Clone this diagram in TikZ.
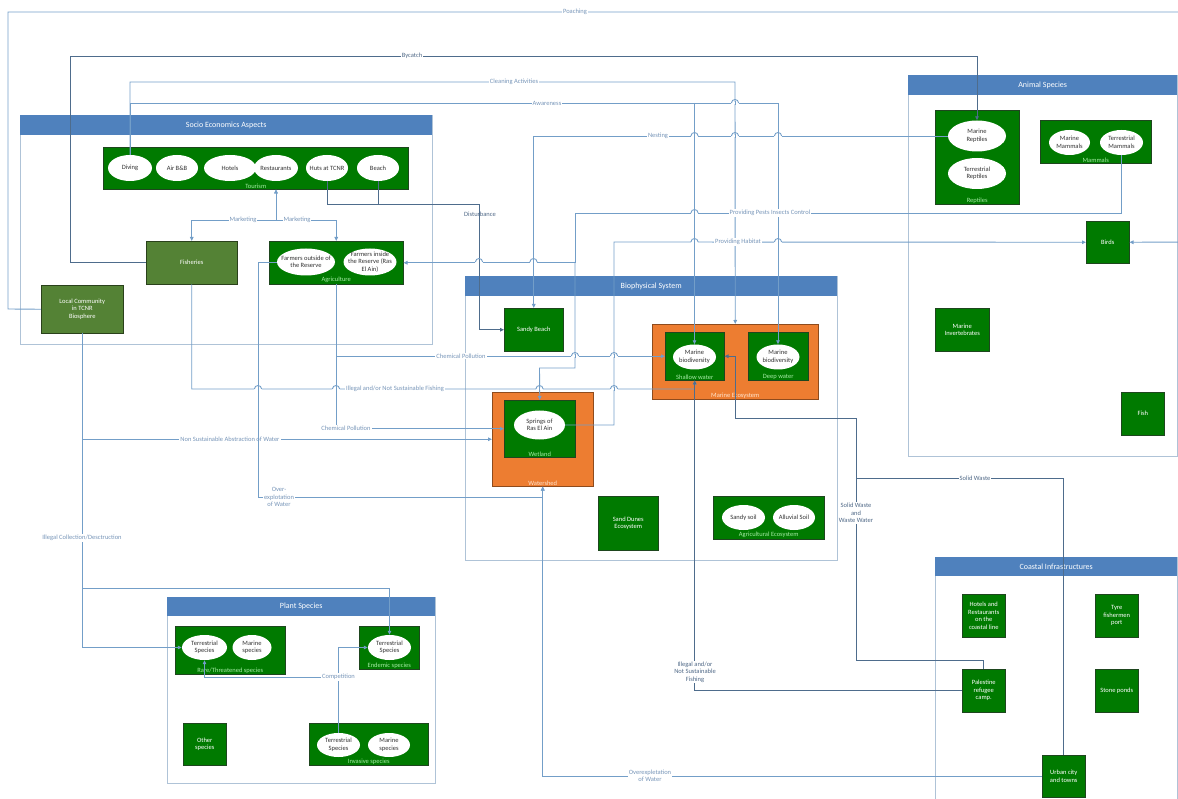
\documentclass[tikz,border=0pt]{standalone}
\usepackage{fontspec}
\setmainfont{Carlito}
\usetikzlibrary{shapes.geometric,arrows.meta}

\definecolor{hdrblue}{RGB}{79,129,189}
\definecolor{framec}{RGB}{175,195,215}
\definecolor{gfill}{RGB}{0,122,0}
\definecolor{gdraw}{RGB}{30,70,30}
\definecolor{olivec}{RGB}{84,130,53}
\definecolor{orng}{RGB}{237,125,49}
\definecolor{lline}{RGB}{115,158,200}
\definecolor{dline}{RGB}{78,108,140}
\definecolor{ltext}{RGB}{120,150,185}
\definecolor{dtext}{RGB}{80,105,135}
\definecolor{subg}{RGB}{165,235,165}
\definecolor{subo}{RGB}{255,228,205}

\tikzset{
  every node/.style={font=\fontsize{6.5}{7.5}\selectfont},
  frame/.style={draw=framec, line width=0.8pt, anchor=north west, inner sep=0pt},
  header/.style={fill=hdrblue, text=white, anchor=north west, inner sep=0pt,
    font=\fontsize{8}{9.6}\selectfont},
  gbox/.style={fill=gfill, draw=gdraw, line width=0.5pt, text=white, anchor=north west,
    inner sep=1pt, align=center},
  obox/.style={gbox, fill=orng, draw=orng!60!black},
  olbox/.style={gbox, fill=olivec, draw=olivec!50!black},
  ell/.style={ellipse, fill=white, draw=none, inner xsep=-7pt, inner ysep=-4pt,
    align=center, text=black!80},
  sublbl/.style={text=subg, anchor=south, inner sep=1.2pt},
  conn/.style={draw=lline, line width=0.9pt},
  dconn/.style={draw=dline, line width=0.9pt},
  lbl/.style={fill=white, text=ltext, inner sep=1pt, align=center},
  dlbl/.style={lbl, text=dtext},
}

\newcommand{\lhop}[3][conn]{%
  \fill[white] ({#2-3.6},{#3-1.3}) rectangle ({#2+3.6},{#3+1.3});
  \draw[#1] ({#2},{#3-2}) -- ({#2},{#3+2});
  \draw[conn] ({#2-3.6},{#3}) .. controls ({#2-3.6},{#3-4.6}) and ({#2+3.6},{#3-4.6}) .. ({#2+3.6},{#3});
}

\begin{document}
\begin{tikzpicture}[x=1pt,y=-1pt,>={Triangle[length=4pt,width=3.6pt]}]
\useasboundingbox (0,0) rectangle (1178,799);
\clip (0,0) rectangle (1178,799);

% ---------------- containers ----------------
\node[frame, minimum width=412, minimum height=229] (socioF) at (20,115) {};
\node[header, minimum width=412, minimum height=20] (socioH) at (20,115) {Socio Economics Aspects};
\node[frame, minimum width=372, minimum height=284] (bioF) at (465,276) {};
\node[header, minimum width=372, minimum height=20] (bioH) at (465,276) {Biophysical System};
\node[frame, minimum width=269, minimum height=381] (animF) at (908,75) {};
\node[header, minimum width=269, minimum height=20] (animH) at (908,75) {Animal Species};
\node[frame, minimum width=268, minimum height=186] (plantF) at (167,597) {};
\node[header, minimum width=268, minimum height=19] (plantH) at (167,597) {Plant Species};
\node[frame, minimum width=242, minimum height=260] (coastF) at (935,557) {};
\node[header, minimum width=242, minimum height=19] (coastH) at (935,557) {Coastal Infrastructures};

% ---------------- socio economics ----------------
\node[gbox, minimum width=305, minimum height=42] (tourism) at (103,147) {};
\node[sublbl] (tourismL) at (tourism.south) {Tourism};
\node[ell, minimum width=44, minimum height=26] (diving) at (130,168) {Diving};
\node[ell, minimum width=42, minimum height=26] (airbnb) at (177,168) {Air B\&B};
\node[ell, minimum width=52, minimum height=26] (hotels) at (230,168) {Hotels};
\node[ell, minimum width=44, minimum height=26] (restaurants) at (276,168) {Restaurants};
\node[ell, minimum width=42, minimum height=26] (huts) at (327,168) {Huts at TCNR};
\node[ell, minimum width=42, minimum height=26] (beach) at (378,168) {Beach};

\node[olbox, minimum width=91, minimum height=43] (fisheries) at (146,241) {Fisheries};
\node[gbox, minimum width=134, minimum height=43] (agri) at (269,241) {};
\node[sublbl] (agriL) at (agri.south) {Agriculture};
\node[ell, minimum width=58, minimum height=27] (farmout) at (306,262) {Farmers outside of\\the Reserve};
\node[ell, minimum width=53, minimum height=27] (farmin) at (370,262) {Farmers inside\\the Reserve (Ras\\El Ain)};
\node[olbox, minimum width=82, minimum height=48] (local) at (41,285) {Local Community\\in TCNR\\Biosphere};

% ---------------- biophysical ----------------
\node[gbox, minimum width=59, minimum height=43] (sandybeach) at (504,308) {Sandy Beach};
\node[obox, minimum width=166, minimum height=75] (marineeco) at (652,324) {};
\node[sublbl, text=subo] (marineecoL) at (marineeco.south) {Marine Ecosystem};
\node[gbox, minimum width=59, minimum height=48] (shallow) at (665,332) {};
\node[sublbl] (shallowL) at (shallow.south) {Shallow water};
\node[ell, minimum width=43, minimum height=25] (mbshallow) at (694.5,357) {Marine\\biodiversity};
\node[gbox, minimum width=60, minimum height=48] (deep) at (748,332) {};
\node[sublbl] (deepL) at (deep.south) {Deep water};
\node[ell, minimum width=43, minimum height=25] (mbdeep) at (778,357) {Marine\\biodiversity};
\node[obox, minimum width=101, minimum height=94] (watershed) at (492,392) {};
\node[sublbl, text=subo] (watershedL) at (watershed.south) {Watershed};
\node[gbox, minimum width=71, minimum height=57] (wetland) at (504,400) {};
\node[sublbl] (wetlandL) at (wetland.south) {Wetland};
\node[ell, minimum width=51, minimum height=29] (springs) at (539.5,425) {Springs of\\Ras El Ain};
\node[gbox, minimum width=60, minimum height=54] (sanddunes) at (598,496) {Sand Dunes\\Ecosystem};
\node[gbox, minimum width=111, minimum height=43] (agrieco) at (713,496) {};
\node[sublbl] (agriecoL) at (agrieco.south) {Agricultural Ecosystem};
\node[ell, minimum width=43, minimum height=25] (sandysoil) at (743.5,517.5) {Sandy soil};
\node[ell, minimum width=42, minimum height=25] (alluvial) at (794,517.5) {Alluvial Soil};

% ---------------- animal species ----------------
\node[gbox, minimum width=84, minimum height=94] (reptiles) at (935,110) {};
\node[sublbl] (reptilesL) at (reptiles.south) {Reptiles};
\node[ell, minimum width=58, minimum height=31] (mreptiles) at (977,136) {Marine\\Reptiles};
\node[ell, minimum width=58, minimum height=31] (treptiles) at (977,173.5) {Terrestrial\\Reptiles};
\node[gbox, minimum width=111, minimum height=43] (mammals) at (1040,120) {};
\node[sublbl] (mammalsL) at (mammals.south) {Mammals};
\node[ell, minimum width=41, minimum height=25] (mmammals) at (1069.5,142.5) {Marine\\Mammals};
\node[ell, minimum width=43, minimum height=25] (tmammals) at (1121.5,142.5) {Terrestrial\\Mammals};
\node[gbox, minimum width=43, minimum height=42] (birds) at (1086,221) {Birds};
\node[gbox, minimum width=54, minimum height=43] (invert) at (935,308) {Marine\\Invertebrates};
\node[gbox, minimum width=43, minimum height=43] (fish) at (1121,392) {Fish};

% ---------------- plant species ----------------
\node[gbox, minimum width=110, minimum height=48] (rare) at (175,626) {};
\node[sublbl] (rareL) at (rare.south) {Rare/Threatened species};
\node[ell, minimum width=45, minimum height=25] (rareT) at (204.5,647.5) {Terrestrial\\Species};
\node[ell, minimum width=39, minimum height=25] (rareM) at (252,647.5) {Marine\\species};
\node[gbox, minimum width=60, minimum height=43] (endemic) at (359,626) {};
\node[sublbl] (endemicL) at (endemic.south) {Endemic species};
\node[ell, minimum width=43, minimum height=25] (endT) at (389.5,647.5) {Terrestrial\\Species};
\node[gbox, minimum width=43, minimum height=42] (other) at (183,723) {Other\\species};
\node[gbox, minimum width=119, minimum height=42] (invasive) at (309,723) {};
\node[sublbl] (invasiveL) at (invasive.south) {Invasive species};
\node[ell, minimum width=43, minimum height=24] (invT) at (338.5,745) {Terrestrial\\Species};
\node[ell, minimum width=42, minimum height=24] (invM) at (389,745) {Marine\\species};

% ---------------- coastal infrastructures ----------------
\node[gbox, minimum width=43, minimum height=43] (hotelsc) at (962,594) {Hotels and\\Restaurants\\on the\\coastal line};
\node[gbox, minimum width=43, minimum height=43] (tyre) at (1095,594) {Tyre\\fishermen\\port};
\node[gbox, minimum width=43, minimum height=43] (palestine) at (962,669) {Palestine\\refugee\\camp.};
\node[gbox, minimum width=43, minimum height=43] (stone) at (1095,669) {Stone ponds};
\node[gbox, minimum width=43, minimum height=42] (urban) at (1042,755) {Urban city\\and towns};

% ---------------- connectors ----------------
% Poaching
\draw[conn,->] (local.west) -- (8,309) -- (8,12) -- (1195,12) -- (1195,242) -- (birds.east);
\node[lbl] (lPoaching) at (575,12) {Poaching};
% Bycatch
\draw[dconn,->] (fisheries.west) -| (70,56) -| (mreptiles.north);
\node[dlbl] (lBycatch) at (412,56) {Bycatch};
% Cleaning activities
\draw[conn,->] (diving.north) |- (735,82) -- (marineeco.north);
\node[lbl] (lCleaning) at (514,82) {Cleaning Activities};
% Awareness
\draw[conn,->] (diving.north) |- (778,103) -- (mbdeep.north);
\coordinate (awj) at (694.5,103);
\draw[conn,->] (awj) -- (mbshallow.north);
\node[lbl] (lAwareness) at (547,103) {Awareness};
% Nesting
\draw[conn,->] (mreptiles.west) -| (sandybeach.north);
\node[lbl] (lNesting) at (658,136) {Nesting};
% Disturbance
\draw[dconn,->] (huts.south) |- (479,204) |- (sandybeach.west);
\coordinate (distj) at (378,204);
\draw[dconn] (beach.south) -- (distj);
\node[text=dtext] (lDisturbance) at (480,214) {Disturbance};
% Marketing
\coordinate (mkt) at (restaurants.south |- tourism.south);
\draw[conn,<->] (mkt) -- ++(0,31) -| (fisheries.north);
\draw[conn,<->] (mkt) -- ++(0,31) -| (agri.north);
\node[lbl] (lMarketing1) at (243,220) {Marketing};
\node[lbl] (lMarketing2) at (297,220) {Marketing};
% Providing pests insects control
\draw[conn,->] (tmammals.south) |- (575,213) |- (agri.east);
\coordinate (pestj) at (575,262);
\draw[conn,->] (pestj) |- (539.5,368) -- (wetland.north);
\node[lbl] (lPests) at (770,213) {Providing Pests Insects Control};
% Providing habitat
\draw[conn,->] (springs.east) -| (614,242) -- (birds.west);
\node[lbl] (lHabitat) at (738,242) {Providing Habitat};
% Chemical pollution
\draw[conn,->] (agri.south) |- (shallow.west);
\node[lbl] (lChem1) at (461,356) {Chemical Pollution};
\draw[conn,->] (agri.south) |- (wetland.west);
\node[lbl] (lChem2) at (346,428) {Chemical Pollution};
% Illegal fishing (fisheries)
\draw[conn,->] (fisheries.south) |- (694.5,389) -- (shallow.south);
\node[lbl] (lFishing1) at (395,389) {Illegal and/or Not Sustainable Fishing};
% Non sustainable abstraction
\draw[conn,->] (local.south) |- (watershed.west);
\node[lbl] (lAbstraction) at (230,439) {Non Sustainable Abstraction of Water};
% Over-exploitation (farmers)
\draw[conn,->] (farmout.west) -| (258,497) -| (watershed.south);
\node[lbl] (lOverexp1) at (279,497) {Over-\\explotation\\of Water};
% Illegal collection
\draw[conn,->] (local.south) |- (rareT.west);
\coordinate (icj) at (82,588);
\draw[conn,->] (icj) -| (endT.north);
\node[lbl] (lCollection) at (82,538) {Illegal Collection/Desctruction};
% Competition
\draw[conn,->] (invT.north) |- (204.5,677) -- (rareT.south);
\coordinate (compj) at (338.5,677);
\draw[conn,->] (compj) |- (endT.west);
\node[lbl] (lCompetition) at (338.5,677) {Competition};
% Overexploitation (urban)
\draw[conn,->] (urban.west) -| (watershed.south);
\node[lbl] (lOverexp2) at (650,776) {Overexpletation\\of Water};
% Illegal fishing (Palestine camp)
\draw[dconn,->] (palestine.west) -| (shallow.south);
\node[dlbl] (lFishing2) at (695,672) {Illegal and/or\\Not Sustainable\\Fishing};
% Solid waste and waste water
\draw[dconn,->] (palestine.north) |- (856,660) |- (735,418) |- (shallow.east);
\node[dlbl] (lWaste) at (856,513) {Solid Waste\\and\\Waste Water};
% Solid waste (urban)
\draw[dconn] (urban.north) |- (856,478);
\node[dlbl] (lSolid) at (975,478) {Solid Waste};

% ---------------- line hops ----------------
\lhop{735}{103}
\lhop{694.5}{136}
\lhop{735}{136}
\lhop{778}{136}
\lhop[dconn]{479}{262}
\lhop{533.5}{262}
\lhop{694.5}{213}
\lhop{694.5}{242}
\lhop{778}{242}
\lhop{575}{356}
\lhop{614}{356}
\lhop{258}{389}
\lhop{336}{389}
\lhop{539.5}{389}
\lhop{614}{389}
\end{tikzpicture}
\end{document}
